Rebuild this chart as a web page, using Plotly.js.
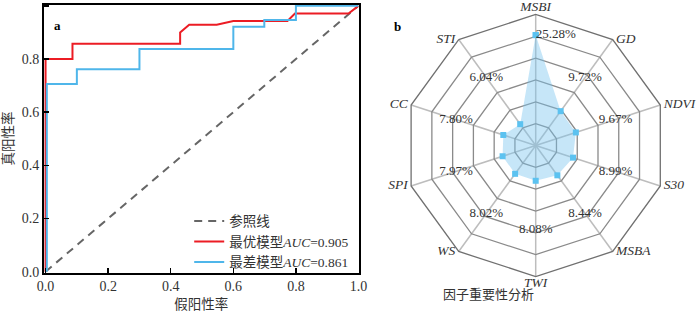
<!DOCTYPE html>
<html>
<head>
<meta charset="utf-8">
<script src="https://cdn.plot.ly/plotly-3.0.1.min.js"></script>
<style>html,body{margin:0;padding:0;background:#fff}#chart{width:700px;height:312px}</style>
</head>
<body>
<div id="chart"></div>
<script>
// ROC curves
const refX = [0, 1];
const refY = [0, 1];
const bestFPR = [0, 0, 0.086, 0.086, 0.43, 0.43, 0.459, 0.547, 0.6, 0.773, 0.797, 0.968, 1];
const bestTPR = [0, 0.8, 0.8, 0.857, 0.857, 0.9, 0.929, 0.929, 0.943, 0.943, 0.971, 0.971, 1];
const worstFPR = [0.004, 0.004, 0.1, 0.1, 0.3, 0.3, 0.6, 0.6, 0.699, 0.699, 0.8, 0.8, 1];
const worstTPR = [0, 0.706, 0.706, 0.761, 0.761, 0.838, 0.838, 0.921, 0.921, 0.947, 0.947, 1, 1];
const legendNames = ['参照线', '最优模型<i>AUC</i>=0.905', '最差模型<i>AUC</i>=0.861'];
const rocTicks = [0, 0.2, 0.4, 0.6, 0.8, 1.0];
const rocTickText = ['0.0', '0.2', '0.4', '0.6', '0.8', '1.0'];

// Factor importance radar
const factors = ['MSBI', 'GD', 'NDVI', 'S30', 'MSBA', 'TWI', 'WS', 'SPI', 'CC', 'STI'];
const importance = [25.28, 9.72, 9.67, 8.99, 8.44, 8.08, 8.02, 7.97, 7.80, 6.04];
const radialMax = 30;

const W = 700, H = 312;
const serif = 'Liberation Serif, Noto Sans CJK SC, serif';
const red = '#ec1c24', blue = '#4fb6ea';

const traces = [
  {x: refX, y: refY, type: 'scatter', mode: 'lines', name: legendNames[0],
   line: {color: '#666666', width: 2, dash: '8px,6px'}, xaxis: 'x', yaxis: 'y'},
  {x: bestFPR, y: bestTPR, type: 'scatter', mode: 'lines', name: legendNames[1],
   line: {color: red, width: 2}, xaxis: 'x', yaxis: 'y'},
  {x: worstFPR, y: worstTPR, type: 'scatter', mode: 'lines', name: legendNames[2],
   line: {color: blue, width: 2}, xaxis: 'x', yaxis: 'y'}
];

// radar area
const closedTheta = factors.concat([factors[0]]);
const closedR = importance.concat([importance[0]]);
traces.push({
  type: 'scatterpolar', r: closedR, theta: closedTheta, mode: 'markers',
  fill: 'toself', fillcolor: 'rgba(120,196,238,0.42)',
  line: {color: 'rgba(0,0,0,0)', width: 0},
  marker: {symbol: 'square', size: 6, color: '#5cc2f0'},
  showlegend: false, subplot: 'polar', hoverinfo: 'skip'
});
// value labels
const maxVal = Math.max(...importance);
const labelR = importance.map(v => v === maxVal ? v : 19.2);
const labelText = importance.map(v => v.toFixed(2) + '%');
const labelPos = importance.map(v => v === maxVal ? 'middle right' : 'middle center');
traces.push({
  type: 'scatterpolar', r: labelR, theta: factors, mode: 'text',
  text: labelText, textposition: labelPos,
  textfont: {family: serif, size: 13, color: '#333'},
  showlegend: false, subplot: 'polar', hoverinfo: 'skip', cliponaxis: false
});
// factor names just outside the outer polygon vertices
const n = factors.length;
const sp = '\u00a0';
const namePos = factors.map((f, i) => i === 0 ? 'top center' : (i * 2 === n ? 'bottom center' : (i < n / 2 ? 'middle right' : 'middle left')));
const nameText = factors.map((f, i) => {
  const t = '<i>' + f + '</i>';
  if (i === 0 || i * 2 === n) return t;
  return i < n / 2 ? sp + t : t + sp;
});
traces.push({
  type: 'scatterpolar', r: factors.map(() => radialMax), theta: factors, mode: 'text',
  text: nameText, textposition: namePos,
  textfont: {family: serif, size: 13.5, color: '#333'},
  showlegend: false, subplot: 'polar', hoverinfo: 'skip', cliponaxis: false
});

const px = (a, b) => [a / W, b / W];
const py = (top, bottom) => [1 - bottom / H, 1 - top / H];

const layout = {
  width: W, height: H,
  margin: {l: 0, r: 0, t: 0, b: 0},
  paper_bgcolor: '#fff', plot_bgcolor: '#fff',
  showlegend: true,
  font: {family: serif, color: '#333', size: 13},
  xaxis: {
    domain: px(44, 358.5), range: [-0.005, 1.0], automargin: false,
    tickvals: rocTicks, ticktext: rocTickText,
    ticks: 'inside', ticklen: 5, tickwidth: 1.5, tickcolor: '#000',
    showline: true, linecolor: '#000', linewidth: 2, mirror: true,
    showgrid: false, zeroline: false,
    tickfont: {family: serif, size: 14, color: '#333'},
    title: {text: '假阳性率', font: {family: serif, size: 13.5, color: '#333'}, standoff: 12}
  },
  yaxis: {
    domain: py(4.5, 272.5), range: [-0.003, 1.005], automargin: false,
    tickvals: rocTicks, ticktext: rocTickText,
    ticks: 'inside', ticklen: 5, tickwidth: 1.5, tickcolor: '#000',
    showline: true, linecolor: '#000', linewidth: 2, mirror: true,
    showgrid: false, zeroline: false,
    tickfont: {family: serif, size: 14, color: '#333'},
    title: {text: '真阳性率', font: {family: serif, size: 13.5, color: '#333'}, standoff: 6}
  },
  legend: {
    x: 0.506, xanchor: 'right', y: 0.11, yanchor: 'bottom',
    bgcolor: 'rgba(0,0,0,0)', borderwidth: 0,
    font: {family: serif, size: 13.5, color: '#333'},
    itemwidth: 30, tracegroupgap: 0
  },
  polar: {
    domain: {x: px(404.7, 666.7), y: py(14.5, 276.5)},
    gridshape: 'linear', bgcolor: 'rgba(0,0,0,0)',
    radialaxis: {
      range: [0, radialMax], dtick: 5, showticklabels: false, ticks: '',
      showline: false, gridcolor: '#8a8a8a', gridwidth: 1.3
    },
    angularaxis: {
      direction: 'clockwise', rotation: 90,
      categoryorder: 'array', categoryarray: factors,
      ticks: '', showticklabels: false,
      showline: true, linecolor: '#707070', linewidth: 1.3,
      gridcolor: '#bdbdbd', gridwidth: 1.5
    }
  },
  annotations: [
    {text: '<b>a</b>', xref: 'paper', yref: 'paper', x: 52 / W, y: 1 - 16 / H,
     showarrow: false, font: {family: serif, size: 13, color: '#000'}},
    {text: '<b>b</b>', xref: 'paper', yref: 'paper', x: 397 / W, y: 1 - 17 / H,
     showarrow: false, font: {family: serif, size: 13, color: '#000'}},
    {text: '因子重要性分析', xref: 'paper', yref: 'paper', x: 535.7 / W, y: 1 - 304 / H,
     showarrow: false, font: {family: serif, size: 13, color: '#333'}}
  ]
};

Plotly.newPlot('chart', traces, layout, {displayModeBar: false, staticPlot: true});
</script>
</body>
</html>
